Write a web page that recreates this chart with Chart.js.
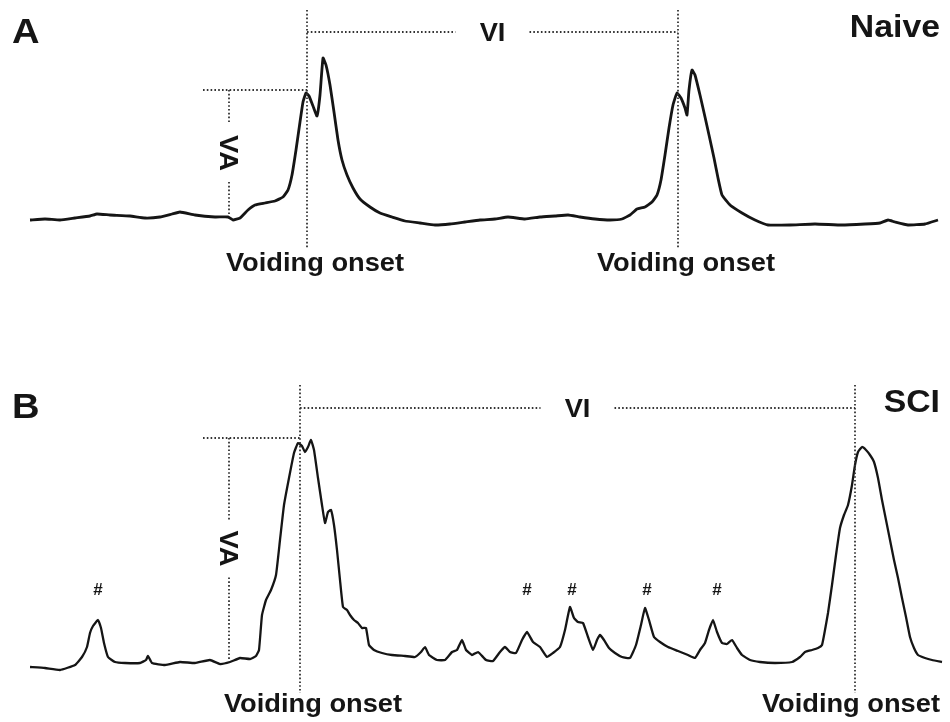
<!DOCTYPE html>
<html>
<head>
<meta charset="utf-8">
<script src="https://cdn.jsdelivr.net/npm/chart.js@4.4.0/dist/chart.umd.min.js"></script>
<style>
  body { margin: 0; background: #fff; }
  #wrap { position: relative; width: 950px; height: 722px; }
  canvas { position: absolute; left: 0; }
  #naiveChart { top: 0; }
  #sciChart { top: 300px; }
</style>
</head>
<body>
<div id="wrap">
  <canvas id="naiveChart" width="950" height="300"></canvas>
  <canvas id="sciChart" width="950" height="422"></canvas>
</div>
<script>
// recording time (arbitrary units) and bladder pressure above baseline
const naiveTime = [30, 45, 60, 75, 90, 97, 110, 130, 145, 160, 172, 180, 195, 215, 228, 233, 240, 248, 255, 265,
  275, 283, 288, 292, 296, 300, 303, 306, 309, 313, 317, 320, 323, 326, 330, 334, 338, 342, 347, 353,
  360, 370, 380, 392, 405, 420, 435, 450, 465, 480, 495, 508, 525, 540, 555, 568, 580, 595, 610, 622,
  630, 637, 645, 652, 657, 661, 665, 669, 673, 677, 681, 685, 687, 689, 692, 695, 700, 705, 709, 714,
  718, 722, 730, 742, 755, 768, 790, 815, 842, 865, 880, 888, 895, 908, 925, 938];
const naivePressure = [0, 1, 0, 2, 4, 6, 5, 4, 2, 3, 6, 8, 5, 3, 3, 0, 2, 10, 15, 17,
  19, 23, 30, 45, 70, 98, 118, 127, 124, 114, 104, 125, 162, 155, 135, 108, 80, 60, 45, 32,
  21, 13, 7, 3, -1, -3, -5, -4, -2, 0, 1, 3, 1, 3, 4, 5, 3, 1, 0, 1,
  5, 11, 13, 18, 25, 40, 65, 92, 115, 127, 122, 112, 105, 130, 150, 145, 125, 103, 85, 62,
  42, 25, 15, 7, 0, -5, -5, -4, -5, -4, -3, 0, -2, -5, -4, 0];

const sciTime = [30, 45, 60, 75, 82, 87, 90, 93, 98, 101, 104, 108, 115, 125, 140, 146, 148, 152, 165, 180,
  195, 210, 220, 230, 240, 250, 256, 259, 262, 266, 271, 276, 280, 284, 289, 294, 298, 302, 305, 308,
  311, 314, 318, 322, 325, 328, 331, 334, 337, 340, 343, 347, 350, 354, 358, 362, 366, 369, 374, 382,
  392, 405, 415, 421, 425, 429, 437, 445, 452, 457, 462, 466, 472, 478, 486, 493, 500, 505, 510, 516,
  522, 527, 533, 540, 547, 553, 560, 565, 570, 574, 578, 583, 588, 593, 597, 600, 604, 609, 615, 622,
  630, 636, 641, 645, 649, 654, 660, 668, 678, 688, 695, 700, 705, 709, 713, 717, 722, 727, 732, 737,
  742, 750, 760, 775, 792, 800, 805, 812, 818, 822, 825, 828, 832, 836, 840, 844, 848, 852, 855, 858,
  862, 866, 870, 874, 878, 882, 886, 890, 894, 898, 902, 906, 910, 914, 918, 925, 932, 942];
const sciPressure = [-2, -3, -5, 0, 8, 18, 32, 39, 45, 37, 22, 8, 3, 2, 2, 5, 9, 2, 0, 3,
  2, 5, 1, 3, 7, 6, 9, 15, 50, 65, 75, 90, 125, 160, 187, 212, 222, 219, 213, 218,
  225, 215, 187, 160, 142, 153, 155, 140, 115, 85, 58, 55, 50, 45, 42, 37, 37, 20, 15, 12,
  10, 9, 8, 13, 18, 10, 5, 5, 13, 15, 25, 15, 10, 13, 5, 4, 13, 18, 13, 12,
  25, 33, 23, 18, 8, 12, 18, 35, 58, 47, 43, 42, 28, 15, 25, 30, 25, 17, 12, 8,
  7, 20, 40, 57, 45, 28, 23, 18, 14, 10, 7, 15, 22, 35, 45, 33, 22, 21, 25, 17,
  10, 5, 3, 2, 3, 8, 13, 15, 17, 20, 35, 52, 80, 110, 137, 150, 160, 180, 200, 213,
  218, 215, 210, 203, 187, 165, 145, 125, 105, 87, 67, 48, 28, 17, 10, 7, 5, 3];

// annotation values
const naiveOnsets = [307, 678];
const sciOnsets = [300, 855];
const sciNonVoiding = [98, 527, 572, 647, 717];
const vaStart = 229;
const naiveVA = [4, 130];
const sciVA = [6, 227];

const STRETCH = 1.09;
const INK = '#151515';
const FONT = '"Liberation Sans", Arial, sans-serif';

function stretchText(ctx, text, x, y, size, align, rot) {
  ctx.save();
  ctx.translate(x, y);
  if (rot) ctx.rotate(rot);
  ctx.scale(STRETCH, 1);
  ctx.font = 'bold ' + size + 'px ' + FONT;
  ctx.textAlign = align || 'center';
  ctx.fillStyle = INK;
  ctx.fillText(text, 0, 0);
  ctx.restore();
}

function dotted(ctx, x1, y1, x2, y2) {
  ctx.save();
  ctx.strokeStyle = '#333';
  ctx.lineWidth = 1.8;
  ctx.setLineDash([1.6, 2.2]);
  ctx.beginPath();
  ctx.moveTo(x1, y1);
  ctx.lineTo(x2, y2);
  ctx.stroke();
  ctx.restore();
}

const tracePlugin = {
  id: 'trace',
  afterDatasetsDraw(chart, args, o) {
    const ctx = chart.ctx;
    const xs = chart.scales.x, ys = chart.scales.y;
    const on1 = xs.getPixelForValue(o.onsets[0]);
    const on2 = xs.getPixelForValue(o.onsets[1]);

    // onset markers
    o.onsets.forEach(t => {
      const px = xs.getPixelForValue(t);
      dotted(ctx, px, o.onsetTop, px, o.onsetBottom);
      ctx.font = 'bold 25px ' + FONT;
      const half = ctx.measureText('Voiding onset').width * STRETCH / 2;
      const cx = Math.min(px + o.textShift, chart.width - 10 - half);
      stretchText(ctx, 'Voiding onset', cx, o.onsetText, 25);
    });

    // voiding interval
    const mid = (on1 + on2) / 2;
    dotted(ctx, on1, o.viY, mid - 37, o.viY);
    dotted(ctx, mid + 37, o.viY, on2, o.viY);
    stretchText(ctx, 'VI', mid, o.viY + 9, 25);

    // voiding amplitude
    const vx = xs.getPixelForValue(vaStart);
    const top = ys.getPixelForValue(o.va[1]);
    const bot = ys.getPixelForValue(o.va[0]);
    const vm = (top + bot) / 2;
    dotted(ctx, vx - 26, top, on1, top);
    dotted(ctx, vx, top, vx, vm - 29);
    dotted(ctx, vx, vm + 29, vx, bot);
    stretchText(ctx, 'VA', vx - 9, vm, 25, 'center', Math.PI / 2);

    // non-voiding contractions
    (o.marks || []).forEach(t => {
      ctx.save();
      ctx.font = 'bold 17px ' + FONT;
      ctx.textAlign = 'center';
      ctx.fillStyle = INK;
      ctx.fillText('#', xs.getPixelForValue(t), o.markY);
      ctx.restore();
    });

    stretchText(ctx, o.letter, 12, o.letterY, 35, 'left');
    stretchText(ctx, o.group, 940, o.groupY, 31, 'right');
  }
};

function makeChart(id, time, pressure, yMin, yMax, width, opts) {
  return new Chart(document.getElementById(id), {
    type: 'line',
    data: {
      datasets: [{
        data: time.map((t, i) => ({ x: t, y: pressure[i] })),
        borderColor: INK,
        borderWidth: width,
        pointRadius: 0,
        tension: 0.12,
        fill: false
      }]
    },
    options: {
      responsive: false,
      animation: false,
      devicePixelRatio: 1,
      layout: { padding: 0 },
      scales: {
        x: { type: 'linear', min: 0, max: 950, display: false },
        y: { min: yMin, max: yMax, display: false }
      },
      plugins: { legend: { display: false }, tooltip: { enabled: false }, trace: opts }
    },
    plugins: [tracePlugin]
  });
}

makeChart('naiveChart', naiveTime, naivePressure, -80, 220, 2.8, {
  onsets: naiveOnsets, va: naiveVA, textShift: 8,
  onsetTop: 10, onsetBottom: 248, onsetText: 271,
  viY: 32, letter: 'A', letterY: 43, group: 'Naive', groupY: 37
});

makeChart('sciChart', sciTime, sciPressure, -57, 365, 2.3, {
  onsets: sciOnsets, va: sciVA, marks: sciNonVoiding, textShift: 13,
  onsetTop: 85, onsetBottom: 393, onsetText: 412, markY: 295,
  viY: 108, letter: 'B', letterY: 118, group: 'SCI', groupY: 112
});
</script>
</body>
</html>
